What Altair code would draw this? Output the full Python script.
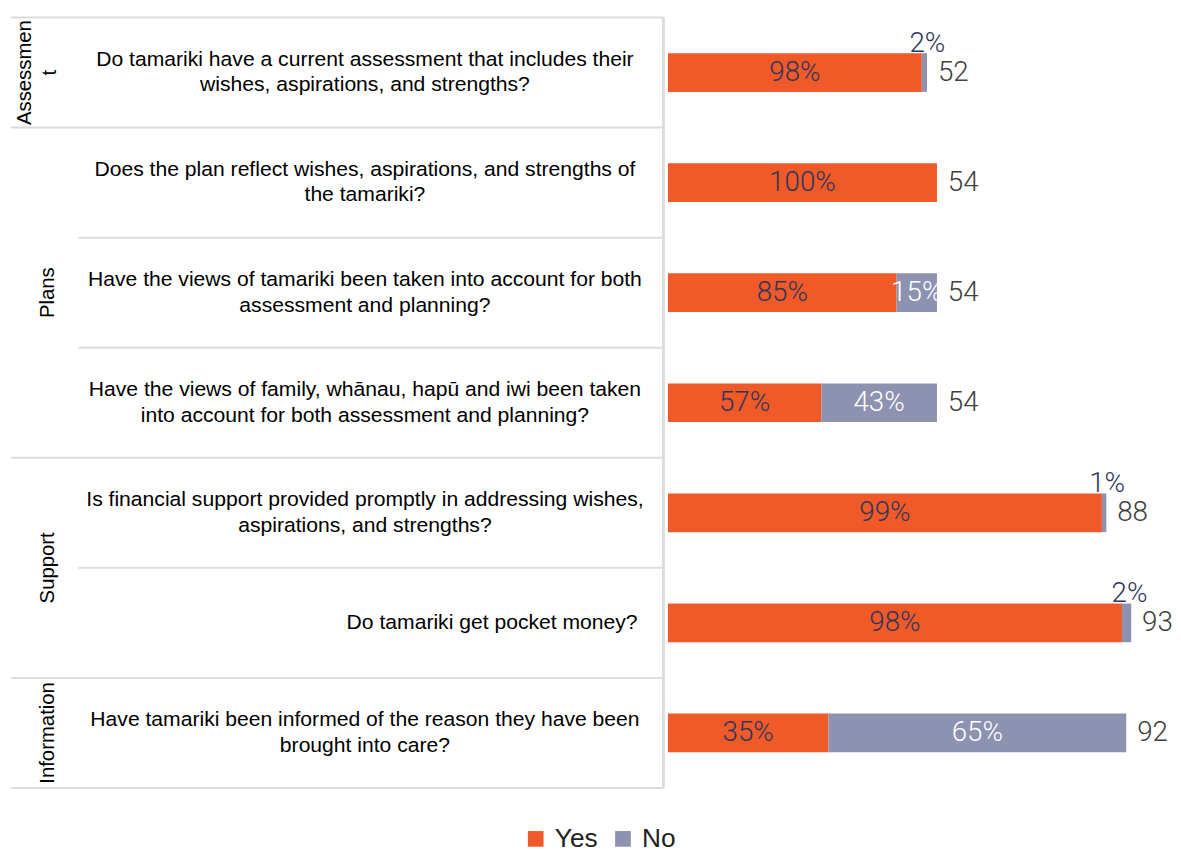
import altair as alt
import pandas as pd

# ---------------- data ----------------
categories = ["Assessmen\nt", "Plans", "Plans", "Plans", "Support", "Support", "Information"]
questions = [
    "Do tamariki have a current assessment that includes their\nwishes, aspirations, and strengths?",
    "Does the plan reflect wishes, aspirations, and strengths of\nthe tamariki?",
    "Have the views of tamariki been taken into account for both\nassessment and planning?",
    "Have the views of family, whānau, hapū and iwi been taken\ninto account for both assessment and planning?",
    "Is financial support provided promptly in addressing wishes,\naspirations, and strengths?",
    "Do tamariki get pocket money?",
    "Have tamariki been informed of the reason they have been\nbrought into care?",
]
yes_pct = [98, 100, 85, 57, 99, 98, 35]
no_pct = [2, 0, 15, 43, 1, 2, 65]
totals = [52, 54, 54, 54, 88, 93, 92]
responses = ["Yes", "No"]
colors = ["#F05A28", "#8C92B0"]

# ---------------- tables ----------------
rows = pd.DataFrame({
    "row": [i + 0.5 for i in range(len(questions))],
    "category": categories,
    "question": questions,
    "total": totals,
})

seg = []
for i, (q, y, n, t) in enumerate(zip(questions, yes_pct, no_pct, totals)):
    yes_len = t * y / 100
    seg.append({"row": i + 0.5, "response": "Yes", "pct": y, "start": 0, "end": yes_len})
    seg.append({"row": i + 0.5, "response": "No", "pct": n, "start": yes_len, "end": t})
segs = pd.DataFrame(seg)
segs["mid"] = (segs["start"] + segs["end"]) / 2
segs["label"] = segs["pct"].astype(str) + "%"

# category groups
groups = []
for i, c in enumerate(categories):
    if groups and groups[-1]["category"] == c:
        groups[-1]["end"] = i + 1
    else:
        groups.append({"category": c, "start": i, "end": i + 1})
grp = pd.DataFrame(groups)
grp["center"] = (grp["start"] + grp["end"]) / 2

major_lines = sorted(set([g["start"] for g in groups] + [len(categories)]))
minor_lines = [b for b in range(1, len(categories)) if b not in major_lines]
major = pd.DataFrame({"b": major_lines})
minor = pd.DataFrame({"b": minor_lines})

# ---------------- scales ----------------
W, H = 1160, 777
xs = alt.Scale(domain=[-131.9, 99.0], nice=False, zero=False, padding=0)
ys = alt.Scale(domain=[0, len(questions)], reverse=True, nice=False, zero=False, padding=0)
LINE = "#DCDCDC"
NUMFONT = "Roboto"
QFONT = "Liberation Sans"

major_rules = alt.Chart(major).mark_rule(color=LINE, strokeWidth=2).encode(
    y=alt.Y("b:Q", scale=ys, axis=None),
    x=alt.value(0), x2=alt.value(658),
)
minor_rules = alt.Chart(minor).mark_rule(color=LINE, strokeWidth=2).encode(
    y=alt.Y("b:Q", scale=ys, axis=None),
    x=alt.value(68), x2=alt.value(658),
)
vrule = alt.Chart(major).mark_rule(color=LINE, strokeWidth=2).encode(
    x=alt.value(658), y=alt.value(0), y2=alt.value(H),
)

cat_single = alt.Chart(grp).transform_filter(
    "indexof(datum.category, '\\n') < 0"
).mark_text(
    angle=270, font=QFONT, fontSize=20.5, color="#000000",
    baseline="middle", align="center",
).encode(
    y=alt.Y("center:Q", scale=ys, axis=None),
    x=alt.value(37),
    text="category:N",
)
cat_multi = alt.Chart(grp).transform_filter(
    "indexof(datum.category, '\\n') >= 0"
).mark_text(
    angle=270, font=QFONT, fontSize=20.5, color="#000000",
    lineBreak="\n", baseline="middle", align="center", lineHeight=25,
).encode(
    y=alt.Y("center:Q", scale=ys, axis=None),
    x=alt.value(14),
    text="category:N",
)

q_multi = alt.Chart(rows).transform_filter(
    "indexof(datum.question, '\\n') >= 0"
).mark_text(
    font=QFONT, fontSize=21.3, color="#000000", lineBreak="\n",
    align="center", baseline="middle", lineHeight=26, dy=-13,
).encode(
    y=alt.Y("row:Q", scale=ys, axis=None),
    x=alt.value(357),
    text="question:N",
)
q_single = alt.Chart(rows).transform_filter(
    "indexof(datum.question, '\\n') < 0"
).mark_text(
    font=QFONT, fontSize=21.3, color="#000000",
    align="right", baseline="middle",
).encode(
    y=alt.Y("row:Q", scale=ys, axis=None),
    x=alt.value(632),
    text="question:N",
)

bars = alt.Chart(segs).transform_filter("datum.pct > 0").mark_bar(
    orient="horizontal", size=39
).encode(
    y=alt.Y("row:Q", scale=ys, axis=None),
    x=alt.X("start:Q", scale=xs, axis=None),
    x2="end:Q",
    color=alt.Color(
        "response:N",
        scale=alt.Scale(domain=responses, range=colors),
        sort=responses,
        legend=alt.Legend(
            title=None, orient="none", legendX=516, legendY=815,
            direction="horizontal", symbolType="square", symbolSize=250,
            symbolStrokeWidth=0, labelFont=QFONT, labelFontSize=26.5,
            labelColor="#222222", columnPadding=12, labelOffset=6,
            symbolOffset=0, padding=0,
        ),
    ),
)

yes_lbl = alt.Chart(segs).transform_filter(
    "datum.response == 'Yes' && datum.pct > 0"
).mark_text(
    font=NUMFONT, fontWeight=300, fontSize=28, color="#30355A", baseline="middle"
).encode(
    y=alt.Y("row:Q", scale=ys, axis=None),
    x=alt.X("mid:Q", scale=xs, axis=None),
    text="label:N",
)
no_lbl_in = alt.Chart(segs).transform_filter(
    "datum.response == 'No' && datum.pct >= 5"
).mark_text(
    font=NUMFONT, fontWeight=300, fontSize=28, color="#FFFFFF", baseline="middle"
).encode(
    y=alt.Y("row:Q", scale=ys, axis=None),
    x=alt.X("mid:Q", scale=xs, axis=None),
    text="label:N",
)
no_lbl_out = alt.Chart(segs).transform_filter(
    "datum.response == 'No' && datum.pct > 0 && datum.pct < 5"
).mark_text(
    font=NUMFONT, fontWeight=300, fontSize=28, color="#30355A",
    baseline="alphabetic", dy=-21, dx=3,
).encode(
    y=alt.Y("row:Q", scale=ys, axis=None),
    x=alt.X("mid:Q", scale=xs, axis=None),
    text="label:N",
)
tot_lbl = alt.Chart(rows).mark_text(
    font=NUMFONT, fontWeight=300, fontSize=28, color="#404040",
    align="left", baseline="middle", dx=11,
).encode(
    y=alt.Y("row:Q", scale=ys, axis=None),
    x=alt.X("total:Q", scale=xs, axis=None),
    text="total:Q",
)

chart = alt.layer(
    major_rules, minor_rules, vrule, cat_single, cat_multi, q_multi, q_single,
    bars, yes_lbl, no_lbl_in, no_lbl_out, tot_lbl,
).properties(
    width=W, height=H,
    padding={"left": 2, "top": 5, "right": 0, "bottom": 0},
).configure(background="#FFFFFF").configure_view(strokeWidth=0, stroke=None)

chart.save("out.html", embed_options={"renderer": "svg", "actions": False})
